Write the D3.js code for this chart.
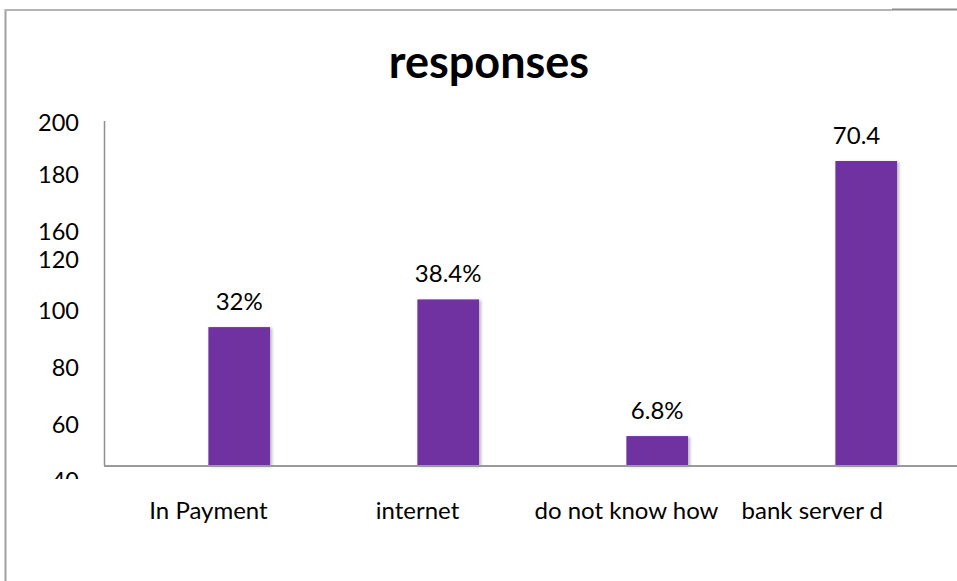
<!DOCTYPE html>
<html>
<head>
<meta charset="utf-8">
<script src="https://cdn.jsdelivr.net/npm/d3@7"></script>
<style>
  html, body { margin: 0; padding: 0; background: #fff; }
  svg { display: block; }
  text { font-family: Lato, "Open Sans", sans-serif; fill: #000; }
</style>
</head>
<body>
<script>
// ---- data ----
const categories = ["In Payment", "internet", "do not know how", "bank server d"];
const responses = [80, 96, 17, 176];
const valueLabels = ["32%", "38.4%", "6.8%", "70.4"];
const tickLabels = ["200", "180", "160", "120", "100", "80", "60", "40"];
const tickAt = [198, 168, 135.5, 119, 89.5, 56.5, 23.7, -8.7];
const title = "responses";

// ---- layout ----
const W = 957, H = 581;
const FS = "24px";
const svg = d3.select("body").append("svg").attr("width", W).attr("height", H);

const defs = svg.append("defs");
const shadow = defs.append("filter").attr("id", "shadow")
  .attr("x", "-20%").attr("y", "-20%").attr("width", "140%").attr("height", "140%");
shadow.append("feDropShadow").attr("dx", 2).attr("dy", 1).attr("stdDeviation", 1.5)
  .attr("flood-color", "#000").attr("flood-opacity", 0.28);
defs.append("clipPath").attr("id", "tickClip")
  .append("rect").attr("x", 0).attr("y", 0).attr("width", W).attr("height", 479);
defs.append("clipPath").attr("id", "catClip")
  .append("rect").attr("x", 0).attr("y", 0).attr("width", 884).attr("height", H);

// outer frame
svg.append("line").attr("x1", 5.5).attr("x2", 5.5).attr("y1", 9).attr("y2", H)
  .attr("stroke", "#a0a0a0").attr("stroke-width", 2);
svg.append("line").attr("x1", 5).attr("x2", 892).attr("y1", 10).attr("y2", 10)
  .attr("stroke", "#b4b4b4").attr("stroke-width", 2);
svg.append("line").attr("x1", 892).attr("x2", W).attr("y1", 9.5).attr("y2", 9.5)
  .attr("stroke", "#8c8c8c").attr("stroke-width", 2);

// title
svg.append("text").attr("x", 489).attr("y", 78).attr("text-anchor", "middle")
  .style("font-weight", "bold").style("font-size", "45px").text(title);

// scales
const y = d3.scaleLinear().domain([0, 200]).range([465.5, 119.5]);
const xLab = d3.scaleBand().domain(categories).range([104, 940]).padding(0);
const xBar = d3.scaleBand().domain(categories).range([134.7, 970.7]).padding(0);
const barW = xBar.bandwidth() * 0.295;

// y axis line
svg.append("line").attr("x1", 104.5).attr("x2", 104.5)
  .attr("y1", y(200) + 1.5).attr("y2", y(0))
  .attr("stroke", "#8e8e8e").attr("stroke-width", 1.5);

// tick labels (positioned as in the original)
const ticks = svg.append("g").attr("clip-path", "url(#tickClip)");
ticks.selectAll("text").data(tickLabels).join("text")
  .attr("x", 79).attr("y", (d, i) => y(tickAt[i]))
  .attr("dy", "0.36em").attr("text-anchor", "end")
  .style("font-size", "23.5px").text(d => d);

// bars
svg.append("g").selectAll("rect").data(categories).join("rect")
  .attr("x", d => xBar(d) + xBar.bandwidth() / 2 - barW / 2)
  .attr("y", (d, i) => y(responses[i]))
  .attr("width", barW)
  .attr("height", (d, i) => y(0) - y(responses[i]))
  .attr("fill", "#7030a0")
  .attr("filter", "url(#shadow)");

// x axis baseline
svg.append("line").attr("x1", 104).attr("x2", W).attr("y1", y(0) + 0.5).attr("y2", y(0) + 0.5)
  .attr("stroke", "#9a9a9a").attr("stroke-width", 2);

// value labels
const vl = svg.append("g").selectAll("text").data(categories).join("text")
  .attr("y", (d, i) => y(responses[i]) - 17)
  .attr("text-anchor", "start")
  .style("font-size", FS)
  .text((d, i) => valueLabels[i]);
vl.each(function (d, i) {
  const t = d3.select(this);
  const txt = valueLabels[i];
  // the original reserves room for a "%" sign on every label
  let w;
  if (txt.endsWith("%")) {
    w = this.getComputedTextLength();
  } else {
    const tmp = svg.append("text").style("font-size", FS).text(txt + "%");
    w = tmp.node().getComputedTextLength();
    tmp.remove();
  }
  t.attr("x", xBar(d) + xBar.bandwidth() / 2 - w / 2);
});

// category labels
const cats = svg.append("g").attr("clip-path", "url(#catClip)");
cats.selectAll("text").data(categories).join("text")
  .attr("y", 519)
  .style("font-size", FS)
  .text(d => d)
  .each(function (d) {
    const w = this.getComputedTextLength();
    const cx = Math.min(xLab(d) + xLab.bandwidth() / 2, 883 - w / 2);
    d3.select(this).attr("x", cx).attr("text-anchor", "middle");
  });
</script>
</body>
</html>
